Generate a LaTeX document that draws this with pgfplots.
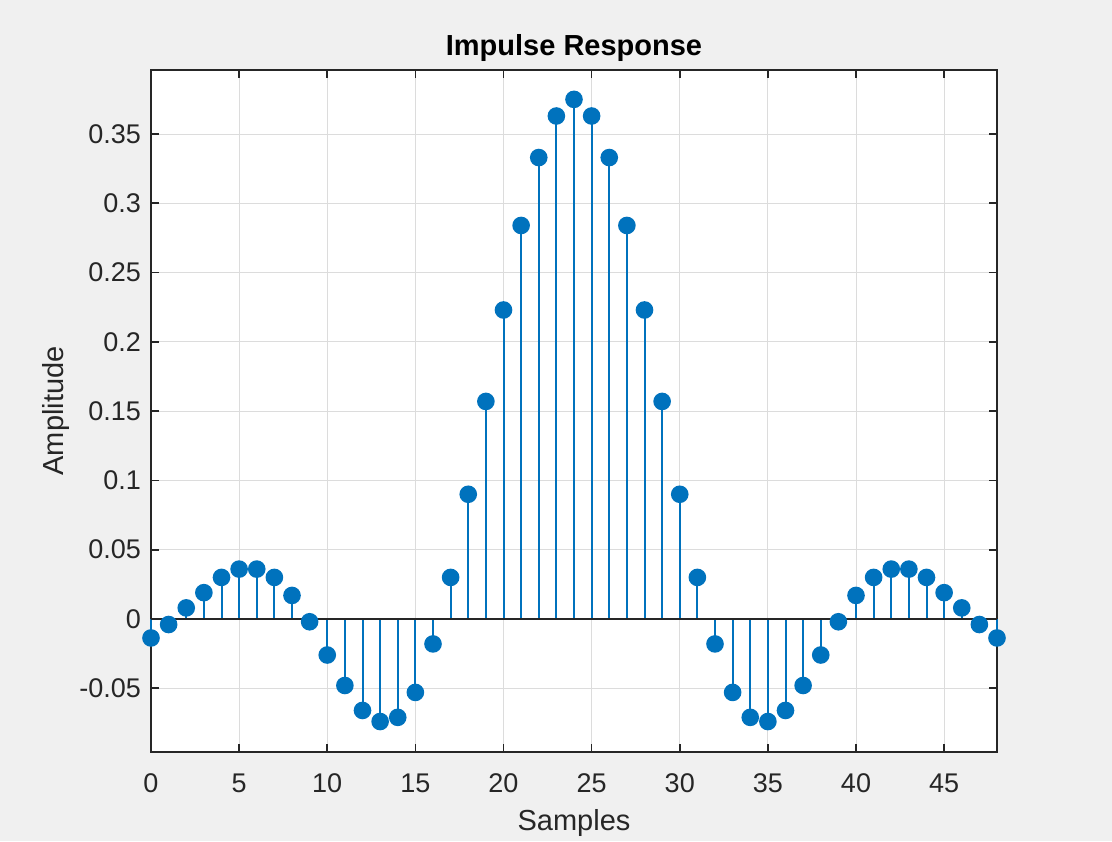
\documentclass[border=0pt]{standalone}
\usepackage{fontspec}
\setmainfont{Liberation Sans}
\usepackage{pgfplots}
\pgfplotsset{compat=1.18}
\definecolor{mblue}{RGB}{0,114,189}
\definecolor{figbg}{RGB}{240,240,240}
\definecolor{axgray}{RGB}{38,38,38}
\definecolor{gridgray}{RGB}{220,220,220}

\begin{document}
\begin{tikzpicture}
\fill[figbg] (0,0) rectangle (556pt,420.5pt);
\useasboundingbox (0,0) rectangle (556pt,420.5pt);
\begin{axis}[
    at={(75.5pt,44.5pt)}, anchor=south west,
    scale only axis, width=423pt, height=341pt,
    xmin=0, xmax=48, ymin=-0.096, ymax=0.3962,
    axis background/.style={fill=white},
    xtick={0,5,...,45},
    ytick={-0.05,0,0.05,0.1,0.15,0.2,0.25,0.3,0.35},
    yticklabels={-0.05,0,0.05,0.1,0.15,0.2,0.25,0.3,0.35},
    /pgf/number format/assume math mode=true,
    tick align=inside, major tick length=4pt,
    tick style={axgray, line width=0.8pt},
    axis line style={axgray, line width=0.8pt},
    grid=major, major grid style={gridgray, line width=0.5pt},
    ticklabel style={font=\fontsize{13.5}{15}\selectfont, text=axgray},
    xticklabel style={anchor=base, yshift=-20pt},
    yticklabel style={anchor=east, xshift=-1.5pt},
    title={Impulse Response},
    title style={font=\bfseries\fontsize{14.5}{17}\selectfont, text=black,
        at={(axis description cs:0.5,1)}, anchor=base, yshift=1pt},
    xlabel={Samples},
    xlabel style={font=\fontsize{14.5}{17}\selectfont, text=axgray,
        at={(axis description cs:0.5,-0.1158)}, anchor=base},
    ylabel={Amplitude},
    ylabel style={font=\fontsize{14.5}{17}\selectfont, text=axgray,
        at={(axis description cs:-0.104,0.5)}, anchor=base},
    clip=false,
]
\addplot[mblue, line width=1pt, ycomb, mark=*, mark size=3.9pt,
    mark options={fill=mblue, draw=mblue}] table {
x y
0 -0.0137
1 -0.004
2 0.008
3 0.019
4 0.030
5 0.036
6 0.036
7 0.030
8 0.017
9 -0.002
10 -0.026
11 -0.048
12 -0.066
13 -0.074
14 -0.071
15 -0.053
16 -0.018
17 0.030
18 0.090
19 0.157
20 0.223
21 0.284
22 0.333
23 0.363
24 0.375
25 0.363
26 0.333
27 0.284
28 0.223
29 0.157
30 0.090
31 0.030
32 -0.018
33 -0.053
34 -0.071
35 -0.074
36 -0.066
37 -0.048
38 -0.026
39 -0.002
40 0.017
41 0.030
42 0.036
43 0.036
44 0.030
45 0.019
46 0.008
47 -0.004
48 -0.0137
};
\addplot[axgray, line width=0.7pt] coordinates {(0,0) (48,0)};
\end{axis}
\end{tikzpicture}
\end{document}
